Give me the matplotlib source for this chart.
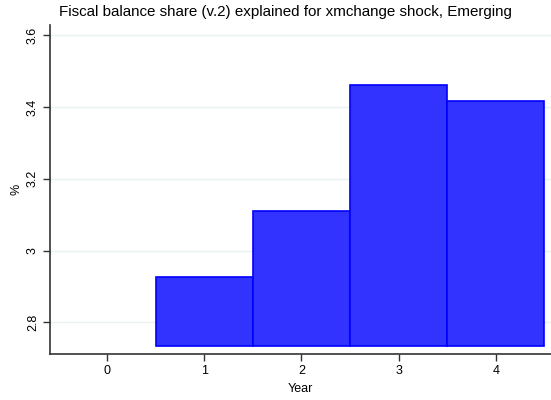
import matplotlib
matplotlib.use("Agg")
import matplotlib.pyplot as plt

years = [1, 2, 3, 4]
values = [2.927, 3.111, 3.462, 3.417]
base = 2.734
xticks = [0, 1, 2, 3, 4]
yticks = [2.8, 3.0, 3.2, 3.4, 3.6]
ytick_labels = ["2.8", "3", "3.2", "3.4", "3.6"]
title = "Fiscal balance share (v.2) explained for xmchange shock, Emerging"

plt.rcParams['font.family'] = ['Liberation Sans', 'DejaVu Sans']

fig = plt.figure(figsize=(5.51, 4.0), dpi=100)
ax = fig.add_axes([50/551, 1-354/400, (551-50)/551, (354-25)/400])

heights = [v - base for v in values]
ax.bar(years, heights, bottom=base, width=1.0, color='#3333ff',
       edgecolor='#0000ff', linewidth=1.2, zorder=3)

ax.set_xlim(-0.586, 4.568)
ax.set_ylim(2.712, 3.628)
ax.set_xticks(xticks)
ax.set_xticklabels([str(t) for t in xticks], fontsize=9)
ax.set_yticks(yticks)
ax.set_yticklabels(ytick_labels, fontsize=9, rotation=90, va='center')
ax.grid(axis='y', color='#eaf2f3', linewidth=1.0, zorder=0)
for s in ['top', 'right']:
    ax.spines[s].set_visible(False)
for s in ['left', 'bottom']:
    ax.spines[s].set_color('#333333')
    ax.spines[s].set_linewidth(1.2)
ax.tick_params(axis='both', length=5, width=1, color='#333333', pad=3)
ax.set_xlabel("Year", fontsize=9, labelpad=4)
ax.set_ylabel("%", fontsize=9, labelpad=3)

fig.text(285.5/551, 1-12/400, title, ha='center', va='center', fontsize=10.9)

fig.savefig("out.png", dpi=100)
